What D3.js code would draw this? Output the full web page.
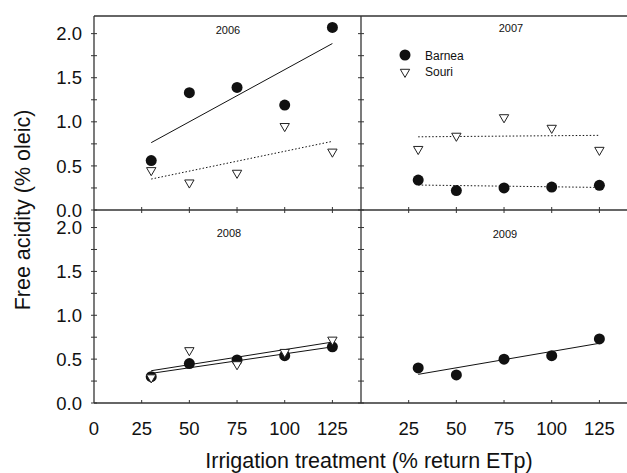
<!DOCTYPE html>
<html>
<head>
<meta charset="utf-8">
<script src="https://cdn.jsdelivr.net/npm/d3@7"></script>
<style>
  body { margin: 0; background: #fff; }
  text { font-family: "Liberation Sans", Arial, sans-serif; fill: #111; }
</style>
</head>
<body>
<div id="chart"></div>
<script>
// irrigation levels (% return ETp)
const treatments = [30, 50, 75, 100, 125];

// free acidity (% oleic)
const barnea2006 = [0.56, 1.33, 1.39, 1.19, 2.07];
const souri2006 = [0.45, 0.31, 0.42, 0.95, 0.66];
const barnea2007 = [0.34, 0.22, 0.25, 0.26, 0.28];
const souri2007 = [0.69, 0.84, 1.05, 0.93, 0.68];
const barnea2008 = [0.30, 0.45, 0.49, 0.54, 0.64];
const souri2008 = [0.29, 0.60, 0.44, 0.58, 0.72];
const barnea2009 = [0.40, 0.32, 0.50, 0.54, 0.73];

const xTickValues = [25, 50, 75, 100, 125];
const yTickValues = [0, 0.5, 1.0, 1.5, 2.0];
const yMinorValues = [0, 0.25, 0.5, 0.75, 1.0, 1.25, 1.5, 1.75, 2.0];

const width = 627, height = 473;
const edgeL = 94, edgeM = 361, edgeR = 628;
const edgeT = 16, edgeMY = 210, edgeB = 403;

const svg = d3.select("#chart")
  .append("svg")
  .attr("width", width)
  .attr("height", height);

// panel layout
const panels = [
  { year: "2006", x0: edgeL, x1: edgeM, y0: edgeT, y1: edgeMY, titleX: 228, titleY: 33.5,
    series: [ { vals: barnea2006, kind: "circle", dash: null }, { vals: souri2006, kind: "tri", dash: "1.5,2" } ] },
  { year: "2007", x0: edgeM, x1: edgeR, y0: edgeT, y1: edgeMY, titleX: 511, titleY: 32,
    series: [ { vals: barnea2007, kind: "circle", dash: "1.5,2" }, { vals: souri2007, kind: "tri", dash: "1.5,2" } ] },
  { year: "2008", x0: edgeL, x1: edgeM, y0: edgeMY, y1: edgeB, titleX: 229, titleY: 237,
    series: [ { vals: barnea2008, kind: "circle", dash: null }, { vals: souri2008, kind: "tri", dash: null } ] },
  { year: "2009", x0: edgeM, x1: edgeR, y0: edgeMY, y1: edgeB, titleX: 505, titleY: 237.5,
    series: [ { vals: barnea2009, kind: "circle", dash: null } ] }
];

const triPath = d3.symbol().type(d3.symbolTriangle).size(38)();

function fit(xs, ys) {
  const mx = d3.mean(xs), my = d3.mean(ys);
  let sxy = 0, sxx = 0;
  xs.forEach((x, i) => { sxy += (x - mx) * (ys[i] - my); sxx += (x - mx) * (x - mx); });
  const b = sxy / sxx;
  return x => my + b * (x - mx);
}

panels.forEach(p => {
  const x = d3.scaleLinear().domain([0, 140]).range([p.x0, p.x1]);
  const y = d3.scaleLinear().domain([0, 2.2]).range([p.y1, p.y0]);
  const g = svg.append("g");

  // regression lines
  p.series.forEach(s => {
    const f = fit(treatments, s.vals);
    const ends = [d3.min(treatments), d3.max(treatments)];
    g.append("line")
      .attr("x1", x(ends[0])).attr("y1", y(f(ends[0])))
      .attr("x2", x(ends[1])).attr("y2", y(f(ends[1])))
      .attr("stroke", "#111")
      .attr("stroke-width", 1)
      .attr("stroke-dasharray", s.dash);
  });

  // markers: circles first, triangles on top
  p.series.filter(s => s.kind === "circle").forEach(s => {
    g.selectAll(null)
      .data(s.vals)
      .enter()
      .append("circle")
      .attr("cx", (d, i) => x(treatments[i]))
      .attr("cy", d => y(d))
      .attr("r", 5.5)
      .attr("fill", "#111");
  });
  p.series.filter(s => s.kind === "tri").forEach(s => {
    g.selectAll(null)
      .data(s.vals)
      .enter()
      .append("path")
      .attr("d", triPath)
      .attr("transform", (d, i) => `translate(${x(treatments[i])},${y(d)}) rotate(180)`)
      .attr("fill", "#fff")
      .attr("stroke", "#222")
      .attr("stroke-width", 1);
  });

  // ticks on the left edge of each panel (crossing)
  g.selectAll(null)
    .data(yMinorValues)
    .enter()
    .append("line")
    .attr("x1", p.x0 - 3).attr("x2", p.x0 + 3)
    .attr("y1", d => y(d)).attr("y2", d => y(d))
    .attr("stroke", "#333").attr("stroke-width", 1);

  // ticks on the bottom edge
  g.selectAll(null)
    .data(xTickValues)
    .enter()
    .append("line")
    .attr("x1", d => x(d)).attr("x2", d => x(d))
    .attr("y1", p.y1 - 3).attr("y2", p.y1 + (p.y1 === edgeB ? 0 : 3))
    .attr("stroke", "#333").attr("stroke-width", 1);

  // y labels on the left panels
  if (p.x0 === edgeL) {
    g.selectAll(null)
      .data(yTickValues)
      .enter()
      .append("text")
      .attr("x", edgeL - 12)
      .attr("y", d => y(d) + 6.6)
      .attr("text-anchor", "end")
      .style("font-size", "18.5px")
      .text(d => d.toFixed(1));
  }

  // x labels on the bottom panels
  if (p.y1 === edgeB) {
    const labs = p.x0 === edgeL ? [0].concat(xTickValues) : xTickValues;
    g.selectAll(null)
      .data(labs)
      .enter()
      .append("text")
      .attr("x", d => x(d))
      .attr("y", 434.5)
      .attr("text-anchor", "middle")
      .style("font-size", "18.5px")
      .text(d => d);
  }

  g.append("text")
    .attr("x", p.titleX)
    .attr("y", p.titleY)
    .attr("text-anchor", "middle")
    .style("font-size", "11px")
    .text(p.year);
});

// frame lines
const frame = [
  [edgeL, edgeT, edgeR, edgeT],
  [edgeL, edgeMY, edgeR, edgeMY],
  [edgeL, edgeB, edgeR, edgeB],
  [edgeL, edgeT, edgeL, edgeB],
  [edgeM, edgeT, edgeM, edgeB]
];
svg.append("g")
  .selectAll("line")
  .data(frame)
  .enter()
  .append("line")
  .attr("x1", d => d[0]).attr("y1", d => d[1])
  .attr("x2", d => d[2]).attr("y2", d => d[3])
  .attr("stroke", "#333")
  .attr("stroke-width", 1.3);

// legend
const legend = svg.append("g");
legend.append("circle").attr("cx", 405).attr("cy", 55).attr("r", 5.5).attr("fill", "#111");
legend.append("text").attr("x", 425).attr("y", 60).style("font-size", "12px").text("Barnea");
legend.append("path").attr("d", triPath)
  .attr("transform", "translate(405,72) rotate(180)")
  .attr("fill", "#fff").attr("stroke", "#222").attr("stroke-width", 1);
legend.append("text").attr("x", 425).attr("y", 76).style("font-size", "12px").text("Souri");

// axis titles
svg.append("text")
  .attr("transform", "translate(30,210) rotate(-90)")
  .attr("text-anchor", "middle")
  .style("font-size", "21.5px")
  .text("Free acidity (% oleic)");

svg.append("text")
  .attr("x", 369)
  .attr("y", 468)
  .attr("text-anchor", "middle")
  .style("font-size", "21.5px")
  .text("Irrigation treatment (% return ETp)");
</script>
</body>
</html>
